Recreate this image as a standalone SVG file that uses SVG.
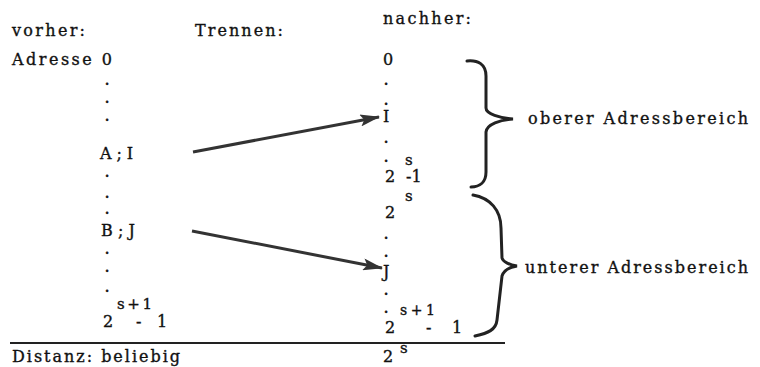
<svg xmlns="http://www.w3.org/2000/svg" width="760" height="367" viewBox="0 0 760 367">
<defs>
<style>
text{font-family:"DejaVu Serif","Liberation Serif",serif;font-size:16px;fill:#111;stroke:#111;stroke-width:0.35}
.sup{font-size:15px}
.sm{font-size:14px}
.dot{font-size:12px;font-weight:bold}
.conn{stroke:#333;stroke-width:3;fill:none}
.brace{stroke:#222;stroke-width:3;fill:none;stroke-linecap:round}
</style>
<marker id="ah" markerUnits="userSpaceOnUse" markerWidth="20" markerHeight="12" refX="19" refY="6" orient="auto">
<path d="M0,0 L20,6 L0,12 L4,6 Z" fill="#333"/>
</marker>
</defs>
<rect width="760" height="367" fill="#fff"/>
<g id="headers">
<text x="12" y="36" textLength="73">vorher:</text>
<text x="195" y="36" textLength="88">Trennen:</text>
<text x="383" y="24" textLength="88">nachher:</text>
</g>
<g id="vorher">
<text x="12" y="65" textLength="100">Adresse 0</text>
<text class="dot" x="105" y="85">.</text>
<text class="dot" x="105" y="103">.</text>
<text class="dot" x="105" y="121">.</text>
<text x="100" y="159" textLength="33">A;I</text>
<text class="dot" x="105" y="177">.</text>
<text class="dot" x="105" y="198">.</text>
<text class="dot" x="105" y="214">.</text>
<text x="101" y="236" textLength="34">B;J</text>
<text class="dot" x="105" y="254">.</text>
<text class="dot" x="105" y="272">.</text>
<text class="dot" x="105" y="292">.</text>
<text x="103" y="327">2<tspan class="sup" x="117" dy="-18" textLength="35">s+1</tspan><tspan x="136" dy="18">-</tspan><tspan x="157">1</tspan></text>
</g>
<g id="nachher">
<text x="383" y="65">0</text>
<text class="dot" x="384" y="85">.</text>
<text class="dot" x="384" y="105">.</text>
<text x="383" y="122">I</text>
<text class="dot" x="384" y="143">.</text>
<text class="dot" x="384" y="162">.</text>
<text x="385" y="182">2<tspan class="sup" x="405" dy="-17">s</tspan><tspan x="406" dy="17">-1</tspan></text>
<text x="385" y="218">2<tspan class="sup" x="405" dy="-17">s</tspan></text>
<text class="dot" x="384" y="239">.</text>
<text class="dot" x="384" y="257">.</text>
<text x="383" y="277">J</text>
<text class="dot" x="384" y="295">.</text>
<text class="dot" x="384" y="313">.</text>
<text x="385" y="333">2<tspan class="sm" x="400" dy="-18" textLength="35">s+1</tspan><tspan x="426" dy="18">-</tspan><tspan x="452">1</tspan></text>
</g>
<g id="bottom">
<line x1="10" y1="343" x2="505" y2="343" stroke="#222" stroke-width="2"/>
<text x="12" y="362" textLength="168">Distanz: beliebig</text>
<text x="383" y="362">2<tspan class="sup" x="400" dy="-9">s</tspan></text>
</g>
<g id="upper-range">
<path class="brace" d="M467,61 C478,60 486,64 486,76 L486,108 C486,114 500,118 513,119 C500,120 487,124 486,132 L486,172 C486,182 480,187 471,187"/>
<text x="528" y="124" textLength="220">oberer  Adressbereich</text>
</g>
<g id="lower-range">
<path class="brace" d="M473,195 C490,198 501,210 501,228 L502,258 C503,262 510,265 517,266 C510,267 504,270 502,276 L497,320 C496,330 488,333 475,336"/>
<text x="525" y="273" textLength="223">unterer Adressbereich</text>
</g>
<g id="connectors">
<line class="conn" x1="193" y1="152" x2="379" y2="117" marker-end="url(#ah)"/>
<line class="conn" x1="192" y1="231" x2="382" y2="268" marker-end="url(#ah)"/>
</g>
</svg>
